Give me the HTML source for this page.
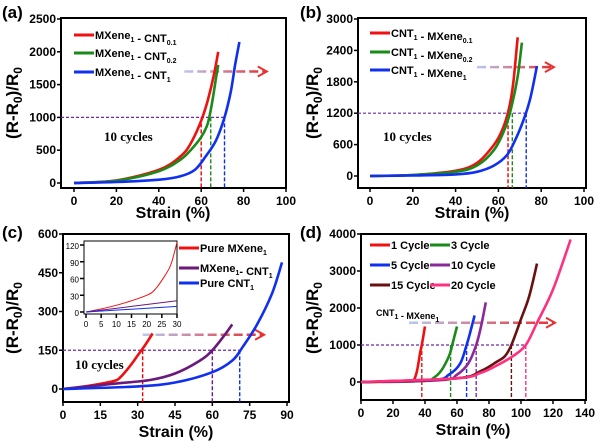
<!DOCTYPE html>
<html><head><meta charset="utf-8"><style>
body{margin:0;background:#fff;width:600px;height:441px;overflow:hidden}
svg{display:block;font-family:"Liberation Sans",sans-serif}
</style></head><body>
<svg id="fig" width="600" height="441" viewBox="0 0 600 441">
<defs>
<marker id="ah" viewBox="0 0 10 10" refX="9" refY="5" markerWidth="6" markerHeight="6" orient="auto"><path d="M0,0 L10,5 L0,10" fill="none" stroke="#e83030" stroke-width="1.6"/></marker>
</defs>
</svg>
<script>
// Panel a
const aRedX=[0,20,40,50,55,60,63,66,68], aRedY=[0,40,200,400,600,950,1250,1650,2000];
const aGrnX=[0,20,40,50,55,60,63,65,67,68], aGrnY=[0,35,180,350,500,700,900,1200,1600,1800];
const aBluX=[0,20,40,50,57,62,67,71,74,76,78], aBluY=[0,15,50,100,200,400,650,1000,1400,1800,2150];
const aXTicks=[0,20,40,60,80,100], aYTicks=[0,500,1000,1500,2000,2500];
// Panel b
const bRedX=[0,20,40,50,58,62,65,67,69], bRedY=[0,20,100,250,600,900,1300,1800,2650];
const bGrnX=[0,20,40,50,58,63,66,69,71], bGrnY=[0,20,80,200,500,900,1300,1900,2550];
const bBluX=[0,20,40,50,58,64,68,72,75,78], bBluY=[0,10,30,80,200,400,700,1100,1500,2100];
const bXTicks=[0,20,40,60,80,100], bYTicks=[0,600,1200,1800,2400,3000];
// Panel c
const cRedX=[0,10,20,23,27,30,33,36], cRedY=[0,12,30,45,90,130,170,215];
const cPurX=[0,20,35,45,55,60,65,68], cPurY=[0,20,35,60,110,150,210,250];
const cBluX=[0,30,45,60,68,72,78,84,88], cBluY=[0,10,25,65,110,160,250,370,490];
const cXTicks=[0,15,30,45,60,75,90], cYTicks=[0,150,300,450,600];
const inRedX=[0,10,20,23,26,28,30], inRedY=[0,12,30,42,65,85,125];
const inPurX=[0,30], inPurY=[0,20];
const inBluX=[0,30], inBluY=[0,10];
const inXTicks=[0,5,10,15,20,25,30], inYTicks=[0,30,60,90,120];
// Panel d
const d1X=[0,30,33,35,37,38,39,40], d1Y=[0,10,50,300,800,1000,1250,1500];
const d3X=[0,40,45,50,55,57,60], d3Y=[0,30,100,300,700,1000,1500];
const d5X=[0,45,55,62,66,68,71], d5Y=[0,50,200,500,1000,1300,1800];
const d10X=[0,50,60,67,72,75,78], d10Y=[0,50,200,500,1000,1500,2150];
const d15X=[0,60,75,85,90,94,100,105,110], d15Y=[0,100,300,550,700,1000,1700,2300,3200];
const d20X=[0,60,75,85,95,103,110,120,131], d20Y=[0,100,250,450,700,1000,1600,2500,3850];
const dXTicks=[0,20,40,60,80,100,120,140], dYTicks=[0,1000,2000,3000,4000];

const NS="http://www.w3.org/2000/svg", svg=document.getElementById('fig'), defs=svg.querySelector('defs');
function el(t,a,p){const e=document.createElementNS(NS,t);for(const k in a)e.setAttribute(k,a[k]);(p||svg).appendChild(e);return e;}
function txt(s,a,p){const e=el('text',a,p);e.innerHTML=s;return e;}
function smooth(P){
  let d='M'+P[0][0].toFixed(1)+','+P[0][1].toFixed(1);
  for(let i=0;i<P.length-1;i++){
    const p0=P[Math.max(i-1,0)],p1=P[i],p2=P[i+1],p3=P[Math.min(i+2,P.length-1)];
    const c1=[p1[0]+(p2[0]-p0[0])/6,p1[1]+(p2[1]-p0[1])/6],c2=[p2[0]-(p3[0]-p1[0])/6,p2[1]-(p3[1]-p1[1])/6];
    d+=` C${c1[0].toFixed(1)},${c1[1].toFixed(1)} ${c2[0].toFixed(1)},${c2[1].toFixed(1)} ${p2[0].toFixed(1)},${p2[1].toFixed(1)}`;
  }
  return d;
}
let gid=0;
function panel(o){
  const g=el('g',{});
  
  
  const X=v=>o.x0+(v-o.xmin)/(o.xmax-o.xmin)*(o.x1-o.x0);
  const Y=v=>o.y0-(v-o.ymin)/(o.ymax-o.ymin)*(o.y0-o.y1);
  const frame=el('rect',{x:o.bx0,y:o.by0,width:o.bx1-o.bx0,height:o.by1-o.by0,fill:'none',stroke:'#000','stroke-width':o.sw||2},g);
  
  
  o.xt.forEach(v=>{
    el('line',{x1:X(v),x2:X(v),y1:o.by1,y2:o.by1+4,stroke:'#000','stroke-width':1.5},g);
    const t=txt(v,{x:X(v),y:o.by1+(o.tfs||12)+5,'text-anchor':'middle','font-size':o.tfs||12,'font-weight':'bold'},g);
    
    
  });
  o.yt.forEach(v=>{
    el('line',{x1:o.bx0,x2:o.bx0-4,y1:Y(v),y2:Y(v),stroke:'#000','stroke-width':1.5},g);
    const t=txt(v,{x:o.bx0-5,y:Y(v)+4,'text-anchor':'end','font-size':o.tfs||12,'font-weight':'bold'},g);
    
    
  });
  if(o.guides){
    const gd=o.guides;
    const h=el('line',{x1:o.bx0,x2:X(gd.hx),y1:Y(gd.hy),y2:Y(gd.hy),stroke:'#6a2ca0','stroke-width':1.2,'stroke-dasharray':'3,2'},g);
    
    
    gd.v.forEach((vx,i)=>{
      const l=el('line',{x1:X(vx),x2:X(vx),y1:Y(gd.hy),y2:o.by1,stroke:gd.vc[i],'stroke-width':1.4,'stroke-dasharray':'4,2'},g);
      
      
    });
    const id='ag'+(gid++);
    const lg=el('linearGradient',{id:id,gradientUnits:'userSpaceOnUse',x1:X(gd.ax0),x2:X(gd.ax1),y1:0,y2:0},defs);
    el('stop',{offset:0,'stop-color':'#b8c8f0'},lg);el('stop',{offset:1,'stop-color':'#e83030'},lg);
    const ar=el('line',{x1:X(gd.ax0),x2:X(gd.ax1),y1:Y(gd.ay),y2:Y(gd.ay),stroke:`url(#${id})`,'stroke-width':2.5,'stroke-dasharray':'9,4'},g);
    
    
    const ax=X(gd.ax1),ay=Y(gd.ay);
    el('path',{d:`M${ax-7},${ay-5} L${ax+2},${ay} L${ax-7},${ay+5}`,fill:'none',stroke:'#e83030','stroke-width':2},g);
  }
  o.series.forEach(s=>{
    const P=s.x.map((v,i)=>[X(v),Y(s.y[i])]);
    const p=el('path',{d:smooth(P),fill:'none',stroke:s.c,'stroke-width':s.w||2.6,'stroke-linejoin':'round'},g);
    
    
  });
  return g;
}
function label(s,x,y,name,extra){const t=txt(s,Object.assign({x:x,y:y},extra),svg);return t;}
function legend(items){items.forEach(it=>{
  const l=el('line',{x1:it.x,x2:it.x+20,y1:it.y,y2:it.y,stroke:it.c,'stroke-width':3});
  
  
  label(it.t,it.x+21,it.y+4,'legend-entry',{'font-size':11,'font-weight':'bold'});
});}
function ylab(x,y){label('(R-R<tspan font-size="12" dy="4">0</tspan><tspan dy="-4">)/R</tspan><tspan font-size="12" dy="4">0</tspan>',0,0,'y-axis-title',{'font-size':17,'font-weight':'bold','text-anchor':'middle',transform:`translate(${x},${y}) rotate(-90)`});}
const sub=s=>`<tspan font-size="7" dy="3">${s}</tspan><tspan dy="-3"></tspan>`;

// (a)
panel({name:'panel-a',x0:74,x1:286,xmin:0,xmax:100,y0:183,y1:19,ymin:0,ymax:2500,bx0:61,bx1:286,by0:18,by1:188,xt:aXTicks,yt:aYTicks,
 guides:{hx:71,hy:1000,v:[60,64.5,71],vc:['#e00','#1a8a1a','#1030e0'],ax0:52,ax1:90,ay:1700},
 series:[{x:aRedX,y:aRedY,c:'#f01010',n:'series-mxene-cnt0.1'},{x:aGrnX,y:aGrnY,c:'#1a8a1a',n:'series-mxene-cnt0.2'},{x:aBluX,y:aBluY,c:'#1030f0',n:'series-mxene-cnt1'}]});
label('(a)',2,18,'panel-label',{'font-size':17,'font-weight':'bold'});
ylab(18,103); label('Strain (%)',173,218,'x-axis-title',{'font-size':16,'font-weight':'bold','text-anchor':'middle'});
label('10 cycles',104,141,'annotation',{'font-size':13,'font-weight':'bold','font-family':'Liberation Serif,serif'});
legend([{x:74,y:35,c:'#f01010',t:'MXene'+sub(1)+' -  CNT'+sub('0.1')},{x:74,y:53,c:'#1a8a1a',t:'MXene'+sub(1)+' -  CNT'+sub('0.2')},{x:74,y:72,c:'#1030f0',t:'MXene'+sub(1)+' -  CNT'+sub(1)}]);

// (b)
panel({name:'panel-b',x0:370,x1:584,xmin:0,xmax:100,y0:176,y1:19,ymin:0,ymax:3000,bx0:358,bx1:586,by0:18,by1:188,xt:bXTicks,yt:bYTicks,
 guides:{hx:73,hy:1200,v:[64.5,66.5,73],vc:['#e00','#1a8a1a','#1030e0'],ax0:50,ax1:85,ay:2080},
 series:[{x:bRedX,y:bRedY,c:'#f01010',n:'series-cnt-mxene0.1'},{x:bGrnX,y:bGrnY,c:'#1a8a1a',n:'series-cnt-mxene0.2'},{x:bBluX,y:bBluY,c:'#1030f0',n:'series-cnt-mxene1'}]});
label('(b)',300,18,'panel-label',{'font-size':17,'font-weight':'bold'});
ylab(318,103); label('Strain (%)',472,218,'x-axis-title',{'font-size':16,'font-weight':'bold','text-anchor':'middle'});
label('10 cycles',383,141,'annotation',{'font-size':13,'font-weight':'bold','font-family':'Liberation Serif,serif'});
legend([{x:370,y:33,c:'#f01010',t:'CNT'+sub(1)+' -  MXene'+sub('0.1')},{x:370,y:52,c:'#1a8a1a',t:'CNT'+sub(1)+' -  MXene'+sub('0.2')},{x:370,y:70,c:'#1030f0',t:'CNT'+sub(1)+' -  MXene'+sub(1)}]);

// (c)
panel({name:'panel-c',x0:63,x1:287,xmin:0,xmax:90,y0:389,y1:234,ymin:0,ymax:600,bx0:63,bx1:289,by0:234,by1:402,xt:cXTicks,yt:cYTicks,
 guides:{hx:71,hy:150,v:[32,60,71],vc:['#e00','#6a1a8a','#1030e0'],ax0:32,ax1:80,ay:210},
 series:[{x:cRedX,y:cRedY,c:'#f01010',n:'series-pure-mxene'},{x:cPurX,y:cPurY,c:'#6a1a7a',n:'series-mxene-cnt'},{x:cBluX,y:cBluY,c:'#1030f0',n:'series-pure-cnt'}]});
const inset=panel({name:'inset',x0:86,x1:177,xmin:0,xmax:30,y0:312,y1:245,ymin:0,ymax:120,bx0:84,bx1:177,by0:241,by1:314,xt:inXTicks,yt:inYTicks,tfs:8,sw:1,
 series:[{x:inRedX,y:inRedY,c:'#f01010',w:1,n:'inset-pure-mxene'},{x:inPurX,y:inPurY,c:'#6a1a7a',w:1,n:'inset-mxene-cnt'},{x:inBluX,y:inBluY,c:'#1030f0',w:1,n:'inset-pure-cnt'}]});
inset.querySelectorAll('text').forEach(t=>t.setAttribute('font-weight','normal'));
label('(c)',2,238,'panel-label',{'font-size':17,'font-weight':'bold'});
ylab(18,318); label('Strain (%)',176,437,'x-axis-title',{'font-size':16,'font-weight':'bold','text-anchor':'middle'});
label('10 cycles',75,369,'annotation',{'font-size':13,'font-weight':'bold','font-family':'Liberation Serif,serif'});
legend([{x:179,y:248,c:'#f01010',t:'Pure MXene'+sub(1)},{x:179,y:268,c:'#6a1a7a',t:'MXene'+sub(1)+'- CNT'+sub(1)},{x:179,y:283,c:'#1030f0',t:'Pure CNT'+sub(1)}]);

// (d)
panel({name:'panel-d',x0:361,x1:585,xmin:0,xmax:140,y0:382,y1:234,ymin:0,ymax:4000,bx0:361,bx1:586,by0:234,by1:400,xt:dXTicks,yt:dYTicks,
 guides:{hx:103,hy:1000,v:[38,56,66,72,94,103],vc:['#f01010','#1a8a1a','#1030f0','#8a2a9a','#6a1010','#ff3080'],ax0:30,ax1:120,ay:1600},
 series:[{x:d1X,y:d1Y,c:'#f01010',n:'series-1-cycle'},{x:d3X,y:d3Y,c:'#1a8a1a',n:'series-3-cycle'},{x:d5X,y:d5Y,c:'#1030f0',n:'series-5-cycle'},{x:d10X,y:d10Y,c:'#8a2a9a',n:'series-10-cycle'},{x:d15X,y:d15Y,c:'#6a1010',n:'series-15-cycle'},{x:d20X,y:d20Y,c:'#ff3080',n:'series-20-cycle'}]});
label('(d)',300,238,'panel-label',{'font-size':17,'font-weight':'bold'});
ylab(318,318); label('Strain (%)',473,435,'x-axis-title',{'font-size':16,'font-weight':'bold','text-anchor':'middle'});
label('CNT'+sub(1)+' - MXene'+sub(1),376,316,'annotation',{'font-size':9,'font-weight':'bold'});
legend([{x:370,y:245,c:'#f01010',t:' 1 Cycle'},{x:430,y:245,c:'#1a8a1a',t:' 3 Cycle'},{x:370,y:265,c:'#1030f0',t:'5 Cycle'},{x:430,y:265,c:'#8a2a9a',t:'10 Cycle'},{x:370,y:285,c:'#6a1010',t:'15 Cycle'},{x:430,y:285,c:'#ff3080',t:'20 Cycle'}]);
</script>
</body></html>
